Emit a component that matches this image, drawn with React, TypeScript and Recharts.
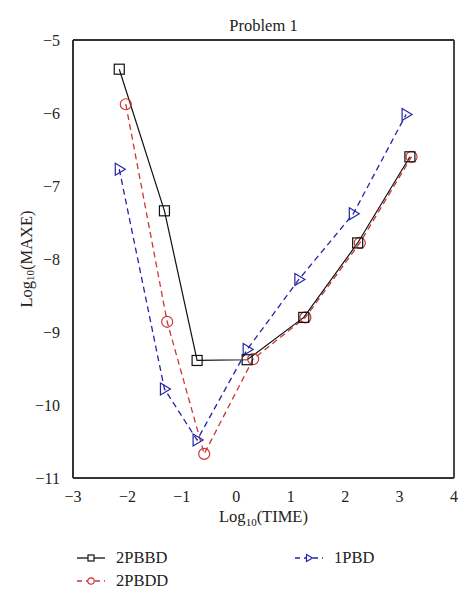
import { Line, LineChart, XAxis, YAxis } from "recharts";

const pbbdTime = [-2.15, -1.32, -0.72, 0.2, 1.24, 2.23, 3.19];
const pbbdErr = [-5.4, -7.34, -9.39, -9.38, -8.8, -7.78, -6.6];
const pbddTime = [-2.03, -1.27, -0.59, 0.31, 1.27, 2.27, 3.22];
const pbddErr = [-5.88, -8.86, -10.67, -9.37, -8.8, -7.78, -6.6];
const pbdTime = [-2.15, -1.32, -0.72, 0.2, 1.15, 2.15, 3.12];
const pbdErr = [-6.77, -9.78, -10.48, -9.24, -8.28, -7.38, -6.02];

const xTicks = [-3, -2, -1, 0, 1, 2, 3, 4];
const yTicks = [-11, -10, -9, -8, -7, -6, -5];

const BLACK = "#111111";
const RED = "#cc3636";
const BLUE = "#2424a8";
const AXIS = "#333333";
const FONT = "'Liberation Serif', 'DejaVu Serif', serif";

const zip = (xs: number[], ys: number[]) => xs.map((t, i) => ({ t, e: ys[i] }));
const minus = (v: number) => String(v).replace("-", "\u2212");

function Square(p: any) {
  if (p.cx == null) return null;
  return <rect x={p.cx - 5} y={p.cy - 5} width={10} height={10} fill="none" stroke={BLACK} strokeWidth={1.2} />;
}
function Circle(p: any) {
  if (p.cx == null) return null;
  return <circle cx={p.cx} cy={p.cy} r={5.5} fill="none" stroke={RED} strokeWidth={1.2} />;
}
function Tri(p: any) {
  if (p.cx == null) return null;
  const { cx, cy } = p;
  return (
    <polygon
      points={`${cx - 4},${cy - 6} ${cx + 6},${cy} ${cx - 4},${cy + 6}`}
      fill="none"
      stroke={BLUE}
      strokeWidth={1.2}
    />
  );
}

// x label, plus the chart title above the plot box
function XTitle(props: any) {
  const vb = props.viewBox;
  return (
    <g>
      <text x={vb.x + vb.width / 2} y={vb.y + 44} textAnchor="middle" fontFamily={FONT} fontSize={16.5} fill="#222">
        Log<tspan fontSize={11} dy={4}>10</tspan>
        <tspan dy={-4}>(TIME)</tspan>
      </text>
      <text x={vb.x + vb.width / 2} y={23} textAnchor="middle" fontFamily={FONT} fontSize={16.5} fill="#222">
        Problem 1
      </text>
    </g>
  );
}
function YTitle(props: any) {
  const vb = props.viewBox;
  const cx = 18;
  const cy = vb.y + vb.height / 2;
  return (
    <text
      x={cx}
      y={cy}
      transform={`rotate(-90 ${cx} ${cy})`}
      textAnchor="middle"
      dominantBaseline="central"
      fontFamily={FONT}
      fontSize={16.5}
      fill="#222"
    >
      Log<tspan fontSize={11} dy={4}>10</tspan>
      <tspan dy={-4}>(MAXE)</tspan>
    </text>
  );
}

function Key({ color, dash, marker, label }: { color: string; dash?: string; marker: string; label: string }) {
  return (
    <div style={{ display: "flex", alignItems: "center", height: 23 }}>
      <svg width={30} height={12} style={{ marginRight: 9 }}>
        <line x1={0} y1={6} x2={28} y2={6} stroke={color} strokeWidth={1.3} strokeDasharray={dash} />
        {marker === "square" && <rect x={11} y={3} width={6} height={6} fill="white" stroke={color} strokeWidth={1.2} />}
        {marker === "circle" && <circle cx={14} cy={6} r={3.2} fill="white" stroke={color} strokeWidth={1.2} />}
        {marker === "tri" && (
          <polygon points="11.5,2.5 17.5,6 11.5,9.5" fill="white" stroke={color} strokeWidth={1.2} />
        )}
      </svg>
      <span style={{ fontFamily: FONT, fontSize: 16.5, color: "#222" }}>{label}</span>
    </div>
  );
}

export default function App() {
  const tickStyle = { fill: "#222", fontSize: 16, fontFamily: FONT };
  const line = { stroke: AXIS, strokeWidth: 1.8 };
  const tl = { stroke: AXIS, strokeWidth: 1.3 };
  return (
    <div style={{ width: 460 }}>
      <LineChart width={460} height={530} margin={{ top: 32, right: 14, bottom: 0, left: 0 }}>
        {/* labelled axes, no tick marks */}
        <XAxis
          xAxisId="b"
          dataKey="t"
          type="number"
          domain={[-3, 4]}
          ticks={xTicks}
          allowDuplicatedCategory={false}
          height={60}
          tickLine={false}
          tickMargin={7}
          tickFormatter={minus}
          tick={tickStyle}
          axisLine={line}
          label={<XTitle />}
        />
        <YAxis
          yAxisId="l"
          type="number"
          domain={[-11, -5]}
          ticks={yTicks}
          width={65}
          tickLine={false}
          tickMargin={7}
          tickFormatter={minus}
          tick={tickStyle}
          axisLine={line}
          label={<YTitle />}
        />
        {/* mirrored axes: inward tick marks and the box frame */}
        <XAxis
          xAxisId="bm"
          orientation="bottom"
          mirror
          type="number"
          domain={[-3, 4]}
          ticks={xTicks}
          tickSize={5}
          tick={false}
          tickLine={tl}
          axisLine={line}
        />
        <XAxis
          xAxisId="tm"
          orientation="top"
          mirror
          type="number"
          domain={[-3, 4]}
          ticks={xTicks}
          tickSize={5}
          tick={false}
          tickLine={tl}
          axisLine={line}
        />
        <YAxis
          yAxisId="lm"
          orientation="left"
          mirror
          type="number"
          domain={[-11, -5]}
          ticks={yTicks}
          tickSize={5}
          tick={false}
          tickLine={tl}
          axisLine={line}
        />
        <YAxis
          yAxisId="rm"
          orientation="right"
          mirror
          type="number"
          domain={[-11, -5]}
          ticks={yTicks}
          tickSize={5}
          tick={false}
          tickLine={tl}
          axisLine={line}
        />
        <Line
          xAxisId="b"
          yAxisId="l"
          data={zip(pbddTime, pbddErr)}
          dataKey="e"
          stroke={RED}
          strokeWidth={1.3}
          strokeDasharray="6 4"
          dot={<Circle />}
          isAnimationActive={false}
        />
        <Line
          xAxisId="b"
          yAxisId="l"
          data={zip(pbdTime, pbdErr)}
          dataKey="e"
          stroke={BLUE}
          strokeWidth={1.3}
          strokeDasharray="6 4"
          dot={<Tri />}
          isAnimationActive={false}
        />
        <Line
          xAxisId="b"
          yAxisId="l"
          data={zip(pbbdTime, pbbdErr)}
          dataKey="e"
          stroke={BLACK}
          strokeWidth={1.2}
          dot={<Square />}
          isAnimationActive={false}
        />
      </LineChart>
      <div style={{ display: "flex", marginTop: 8, paddingLeft: 69 }}>
        <div style={{ width: 218 }}>
          <Key color={BLACK} marker="square" label="2PBBD" />
          <Key color={RED} marker="circle" dash="5 4" label="2PBDD" />
        </div>
        <div>
          <Key color={BLUE} marker="tri" dash="5 4" label="1PBD" />
        </div>
      </div>
    </div>
  );
}
